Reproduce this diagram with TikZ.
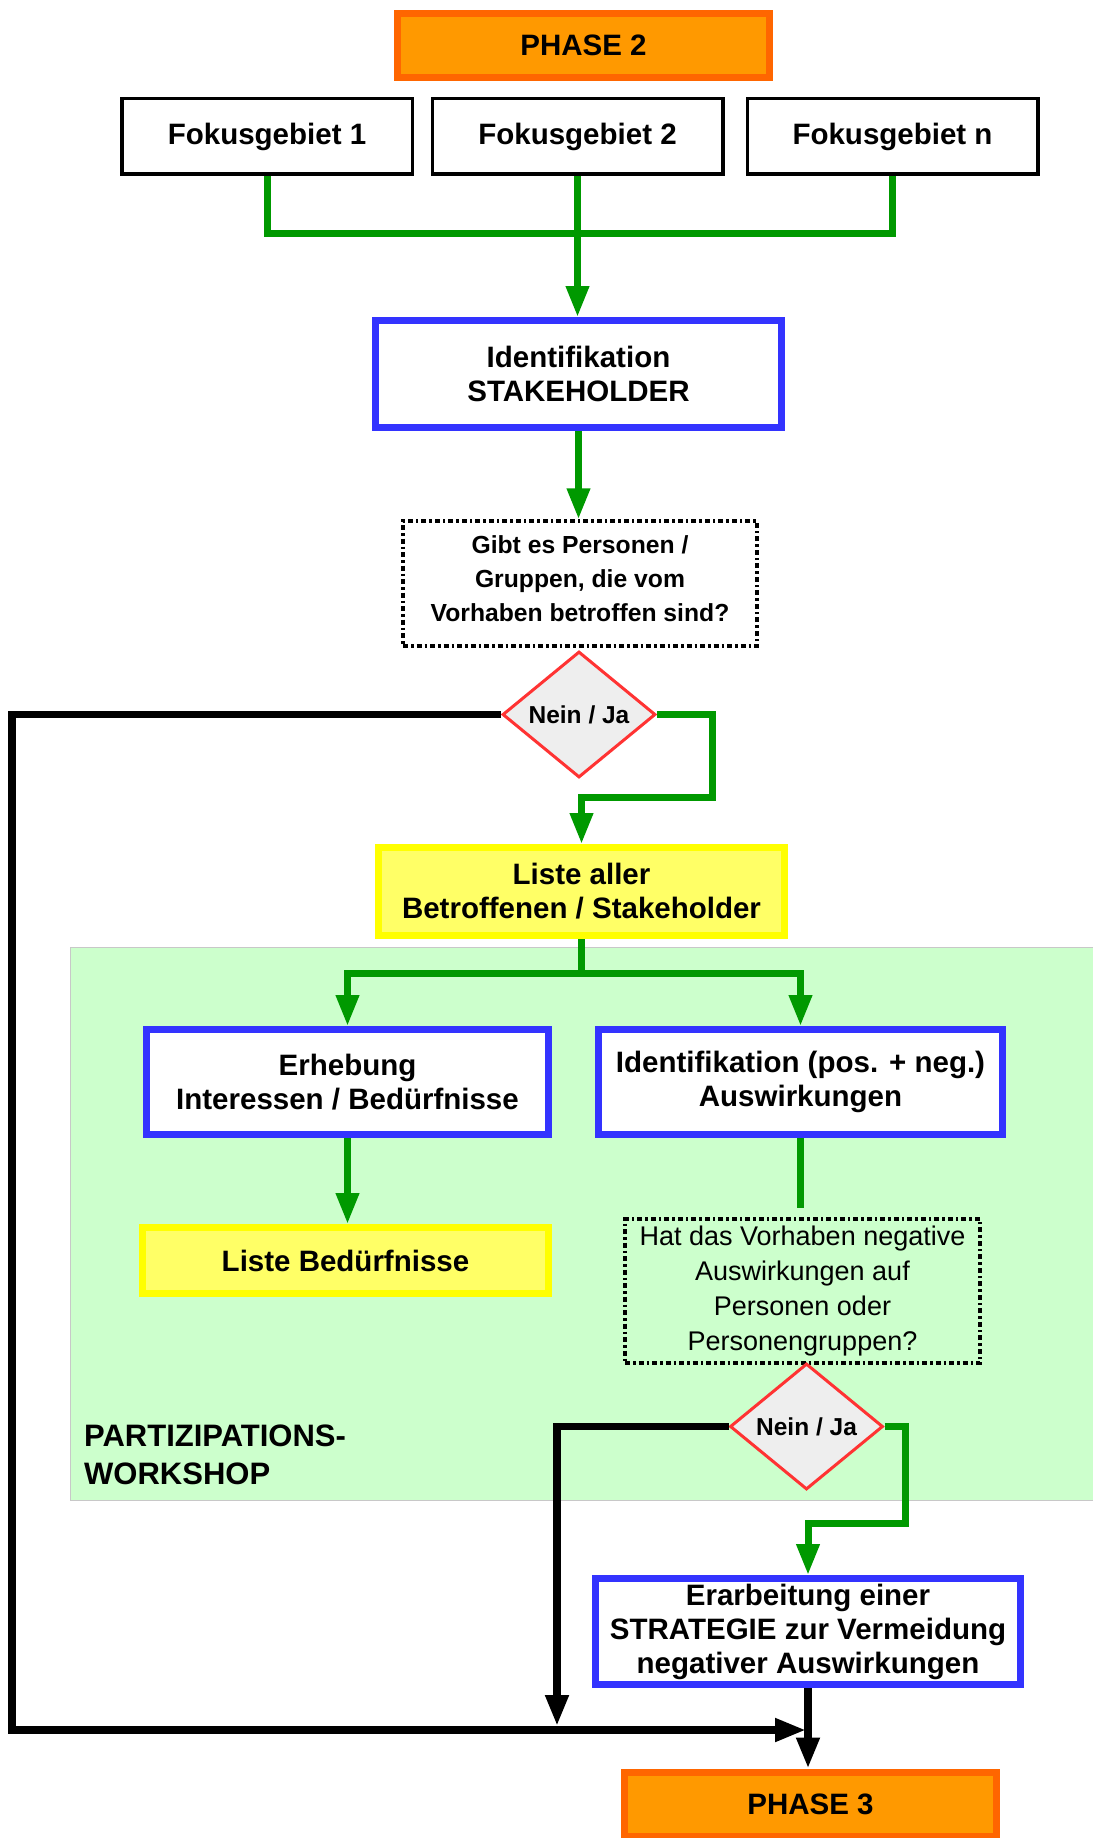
\documentclass[tikz,border=0pt]{standalone}
\usepackage{fontspec}
\setmainfont{Liberation Sans}
\definecolor{phaseorange}{RGB}{255,153,0}
\definecolor{phaserand}{RGB}{255,102,0}
\definecolor{kastenblau}{RGB}{51,51,255}
\definecolor{pfeilgruen}{RGB}{0,153,0}
\definecolor{listegelb}{RGB}{255,255,102}
\definecolor{listerand}{RGB}{255,255,0}
\definecolor{workshopgruen}{RGB}{204,255,204}
\definecolor{workshoprand}{RGB}{200,200,200}
\definecolor{rautegrau}{RGB}{238,238,238}
\definecolor{rauterot}{RGB}{255,51,51}
\usetikzlibrary{shapes.geometric,arrows.meta,positioning}

\begin{document}
\begin{tikzpicture}[x=1pt, y=-1pt,
    boxtext/.style={font=\bfseries\fontsize{29.5pt}{34pt}\selectfont, align=center, inner sep=0pt},
    phasebox/.style={boxtext, draw=phaserand, fill=phaseorange, line width=7pt, minimum width=372pt, minimum height=64pt},
    fokusbox/.style={boxtext, draw=black, line width=3.5pt, minimum width=290.5pt, minimum height=75.5pt},
    prozessbox/.style={boxtext, draw=kastenblau, fill=white, line width=7pt},
    listebox/.style={boxtext, draw=listerand, fill=listegelb, line width=7pt},
    fragebox/.style={align=center, inner sep=0pt, draw=black, line width=3.5pt, dash pattern=on 5pt off 3pt on 2.5pt off 3pt},
    raute/.style={diamond, aspect=1.2, draw=rauterot, fill=rautegrau, line width=3pt, inner sep=0pt, font=\bfseries\fontsize{24.5pt}{28pt}\selectfont, minimum width=153pt, minimum height=126pt},
    jalinie/.style={draw=pfeilgruen, line width=7pt},
    neinlinie/.style={draw=black, line width=7.5pt},
    spitze/.style={-{Triangle[length=31pt,width=22pt]}}
]
    \useasboundingbox (0,0) rectangle (1092,1838);
    \filldraw[fill=workshopgruen, draw=workshoprand, line width=1pt] (70.5,947.5) rectangle (1100,1500);

    \node[phasebox] (phasezwei) at (583.5,45.5) {PHASE 2};
    \node[fokusbox] (fokuseins) at (267,136.5) {Fokusgebiet 1};
    \node[fokusbox] (fokuszwei) at (577.5,136.5) {Fokusgebiet 2};
    \node[fokusbox] (fokusn) at (892.5,136.5) {Fokusgebiet n};
    \node[prozessbox, minimum width=406pt, minimum height=107pt] (stakeholder) at (578.5,374) {Identifikation\\STAKEHOLDER};
    \node[fragebox, minimum width=354pt, minimum height=125pt, text depth=10pt, font=\bfseries\fontsize{24.7pt}{34pt}\selectfont] (frageeins) at (580,583.5) {Gibt es Personen /\\Gruppen, die vom\\Vorhaben betroffen sind?};
    \node[raute] (rauteeins) at (579,714.5) {Nein / Ja};
    \node[listebox, minimum width=406pt, minimum height=88pt] (listealle) at (581.5,891.5) {Liste aller\\Betroffenen / Stakeholder};
    \node[prozessbox, minimum width=402pt, minimum height=105pt] (erhebung) at (347.5,1082) {Erhebung\\Interessen / Bedürfnisse};
    \node[prozessbox, minimum width=404pt, minimum height=105pt] (auswirkung) at (800.5,1082) {Identifikation (pos. + neg.)\\Auswirkungen};
    \node[listebox, minimum width=406pt, minimum height=66pt] (listebed) at (345.5,1260.5) {Liste Bedürfnisse};
    \node[fragebox, minimum width=355pt, minimum height=144pt, font=\fontsize{27pt}{35pt}\selectfont] (fragezwei) at (802.5,1291) {Hat das Vorhaben negative\\Auswirkungen auf\\Personen oder\\Personengruppen?};
    \node[raute] (rautezwei) at (806.5,1426.5) {Nein / Ja};
    \node[anchor=west, align=left, inner sep=0pt, font=\bfseries\fontsize{31pt}{37.5pt}\selectfont] (workshoptitel) at (84,1455) {PARTIZIPATIONS-\\WORKSHOP};
    \node[prozessbox, minimum width=425pt, minimum height=106pt] (strategie) at (808,1631.5) {Erarbeitung einer\\STRATEGIE zur Vermeidung\\negativer Auswirkungen};
    \node[phasebox] (phasedrei) at (810.5,1804) {PHASE 3};

    \coordinate (sammel) at (577.5,233);
    \coordinate (jaeins) at (712,797);
    \coordinate (verteiler) at (581.5,973);
    \coordinate (jazwei) at (905,1523);
    \coordinate (umweg) at (12,1730);
    \coordinate (treffpunkt) at (806,1730);
    \coordinate (einmuendung) at (557,1726);

    \draw[jalinie] (fokuseins.south) |- (sammel) -| (fokusn.south);
    \draw[jalinie, spitze] (fokuszwei.south) -- (fokuszwei.south |- stakeholder.north);
    \draw[jalinie, spitze] (stakeholder.south) -- (stakeholder.south |- frageeins.north);
    \draw[jalinie, spitze] (rauteeins.east) -| (jaeins) -| (listealle.north);
    \draw[jalinie] (listealle.south) -- (verteiler);
    \draw[jalinie, spitze] (verteiler) -| (erhebung.north);
    \draw[jalinie, spitze] (verteiler) -| (auswirkung.north);
    \draw[jalinie, spitze] (erhebung.south) -- (erhebung.south |- listebed.north);
    \draw[jalinie, shorten >=9pt] (auswirkung.south) -- (auswirkung.south |- fragezwei.north);
    \draw[jalinie, spitze] (rautezwei.east) -| (jazwei) -| (strategie.north);
    \draw[neinlinie, spitze] (rauteeins.west) -| (umweg) -- (treffpunkt);
    \draw[neinlinie, spitze] (rautezwei.west) -| (einmuendung);
    \draw[neinlinie, spitze] (strategie.south) -- (strategie.south |- phasedrei.north);
\end{tikzpicture}
\end{document}
